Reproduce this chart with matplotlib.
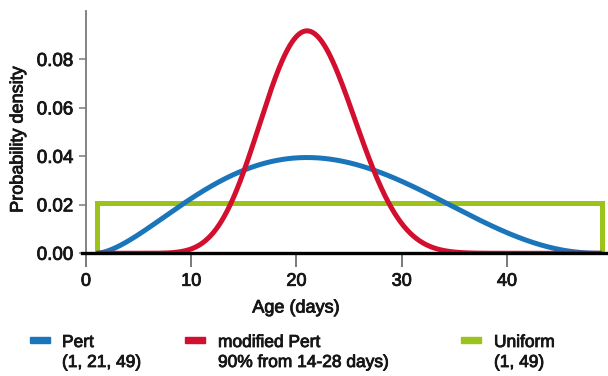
import math
import numpy as np
import matplotlib
matplotlib.use("Agg")
import matplotlib.pyplot as plt
import matplotlib.patheffects as pe
from matplotlib.patches import Rectangle

plt.rcParams['font.family'] = ['Liberation Sans', 'DejaVu Sans']

# Distribution parameters
pert_params = [1, 21, 49]          # min, mode, max
mod_range = [14, 28]               # interval holding the stated share
mod_share = 0.90
uniform_params = [1, 49]

x_ticks = [0, 10, 20, 30, 40]
y_ticks = [0.00, 0.02, 0.04, 0.06, 0.08]

labels = [["Pert", "(1, 21, 49)"],
          ["modified Pert", "90% from 14-28 days)"],
          ["Uniform", "(1, 49)"]]
colors = ["#1b75bb", "#d20f2f", "#9cc31b"]

TEXT_COLOR = '#161616'
heavy = [pe.withStroke(linewidth=0.6, foreground=TEXT_COLOR)]


def pert_pdf(x, lo, mode, hi, lam):
    a = 1 + lam * (mode - lo) / (hi - lo)
    b = 1 + lam * (hi - mode) / (hi - lo)
    z = np.clip((x - lo) / (hi - lo), 1e-12, 1 - 1e-12)
    logb = math.lgamma(a) + math.lgamma(b) - math.lgamma(a + b)
    return np.exp((a - 1) * np.log(z) + (b - 1) * np.log(1 - z) - logb) / (hi - lo)


def share_in(lam, lo, mode, hi, r0, r1):
    g = np.linspace(r0, r1, 4001)
    return np.trapezoid(pert_pdf(g, lo, mode, hi, lam), g)


# Shape parameter of the modified Pert so that the interval holds the share
lo_l, hi_l = 4.0, 200.0
for _ in range(80):
    mid = 0.5 * (lo_l + hi_l)
    if share_in(mid, *pert_params, *mod_range) < mod_share:
        lo_l = mid
    else:
        hi_l = mid
lam_mod = 0.5 * (lo_l + hi_l)

xs = np.linspace(pert_params[0], pert_params[2], 800)
y_pert = pert_pdf(xs, *pert_params, 4.0)
y_mod = pert_pdf(xs, *pert_params, lam_mod)
u_dens = 1.0 / (uniform_params[1] - uniform_params[0])

fig = plt.figure(figsize=(6.08, 3.76), dpi=100)
ax = fig.add_axes([86 / 608, 1 - 253.3 / 376, 522 / 608, 242.3 / 376])

ax.plot([uniform_params[0], uniform_params[0], uniform_params[1], uniform_params[1]],
        [0, u_dens, u_dens, 0], color=colors[2], lw=3.6, zorder=2,
        solid_joinstyle='miter')
ax.plot(xs, y_pert, color=colors[0], lw=3.6, zorder=3, solid_capstyle='butt')
ax.plot(xs, y_mod, color=colors[1], lw=3.6, zorder=4, solid_capstyle='butt')

ax.plot([-0.4, 49.6], [0, 0], color='black', lw=2.4, clip_on=False, zorder=6)

ax.set_xlim(0, 49.6)
ax.set_ylim(0, 0.1)
ax.set_xticks(x_ticks)
ax.set_yticks(y_ticks)
ax.set_yticklabels([f"{v:.2f}" for v in y_ticks])

for s in ['top', 'right', 'bottom']:
    ax.spines[s].set_visible(False)
ax.spines['left'].set_color('#7a7a7a')
ax.spines['left'].set_linewidth(1.3)

ax.tick_params(axis='x', length=10, width=1.1, color='#555555', pad=4,
               labelsize=13, labelcolor=TEXT_COLOR)
ax.tick_params(axis='y', length=5, width=1.1, color='#7a7a7a', pad=4,
               labelsize=13.5, labelcolor=TEXT_COLOR)
for t in ax.get_xticklabels() + ax.get_yticklabels():
    t.set_path_effects(heavy)

fig.text(18 / 608, 1 - 139.5 / 376, "Probability density", rotation=90,
         ha='center', va='center', fontsize=13, color=TEXT_COLOR,
         path_effects=heavy)
fig.text(296 / 608, 1 - 308 / 376, "Age (days)", ha='center', va='center',
         fontsize=13, color=TEXT_COLOR, path_effects=heavy)

# Legend
patch_x = [30, 185, 461]
text_x = [62, 218, 494]
for px, tx, col, lab in zip(patch_x, text_x, colors, labels):
    fig.patches.append(Rectangle((px / 608, 1 - 343 / 376), 20 / 608, 6 / 376,
                                 transform=fig.transFigure, color=col))
    fig.text(tx / 608, 1 - 347 / 376, lab[0], ha='left', va='baseline',
             fontsize=12.5, color=TEXT_COLOR, path_effects=heavy)
    fig.text(tx / 608, 1 - 367 / 376, lab[1], ha='left', va='baseline',
             fontsize=12.5, color=TEXT_COLOR, path_effects=heavy)

fig.savefig("out.png", dpi=100)
